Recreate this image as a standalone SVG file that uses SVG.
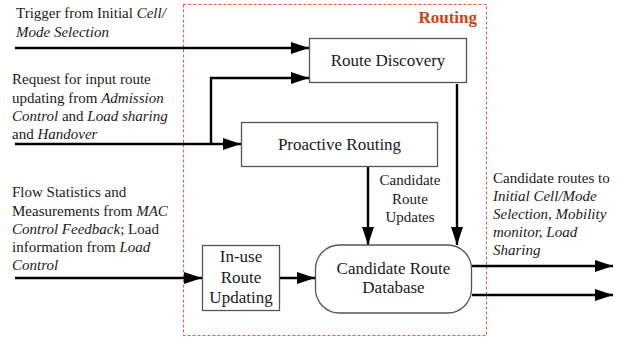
<svg xmlns="http://www.w3.org/2000/svg" width="629" height="339" viewBox="0 0 629 339">
  <defs>
    <marker id="arrow" viewBox="0 0 18 12" refX="18" refY="6" markerWidth="18" markerHeight="12" markerUnits="userSpaceOnUse" orient="auto">
      <path d="M0,0 L18,6 L0,12 Z" fill="#000"/>
    </marker>
  </defs>
  <style>
    text { font-family: 'Liberation Serif', 'DejaVu Serif', 'Noto Serif', Tinos, serif; fill: #1a1a1a; }
    .box { fill: #fff; stroke: #555; stroke-width: 1.3; }
    .lbl { font-size: 17px; text-anchor: middle; }
    .side { font-size: 15px; }
    .it { font-style: italic; }
    .wire { fill: none; stroke: #000; stroke-width: 2.4; }
    .frame { fill: none; stroke: #e0603a; stroke-width: 1.1; stroke-dasharray: 3 2; }
    .title { font-size: 17px; font-weight: bold; fill: #cc4418; text-anchor: end; }
  </style>
  <rect width="629" height="339" fill="#fff"/>

  <!-- Routing frame -->
  <g id="routing">
    <rect class="frame" x="183.5" y="4.5" width="303" height="331"/>
    <text class="title" x="477" y="23" font-family="Liberation Serif, serif">Routing</text>
  </g>

  <!-- connectors -->
  <g id="connectors">
    <path class="wire" d="M15,48 H309" marker-end="url(#arrow)"/>
    <path class="wire" d="M211,144 V78 H309" marker-end="url(#arrow)"/>
    <path class="wire" d="M15,144 H241" marker-end="url(#arrow)"/>
    <path class="wire" d="M368,166 V245" marker-end="url(#arrow)"/>
    <path class="wire" d="M457,84 V245" marker-end="url(#arrow)"/>
    <path class="wire" d="M15,278 H202" marker-end="url(#arrow)"/>
    <path class="wire" d="M280,278 H315" marker-end="url(#arrow)"/>
    <path class="wire" d="M472,266 H613" marker-end="url(#arrow)"/>
    <path class="wire" d="M472,295 H613" marker-end="url(#arrow)"/>
  </g>

  <!-- nodes -->
  <g id="route-discovery">
    <rect class="box" x="309.5" y="38.5" width="157" height="44"/>
    <text class="lbl" x="388" y="66">Route Discovery</text>
  </g>
  <g id="proactive-routing">
    <rect class="box" x="241.5" y="122.5" width="196" height="44"/>
    <text class="lbl" x="339.5" y="150">Proactive Routing</text>
  </g>
  <g id="inuse-route-updating">
    <rect class="box" x="202.5" y="245.5" width="77" height="65"/>
    <text class="lbl" x="241" y="262">In-use</text>
    <text class="lbl" x="241" y="283">Route</text>
    <text class="lbl" x="241" y="303">Updating</text>
  </g>
  <g id="candidate-route-database">
    <rect class="box" x="315.5" y="245" width="156" height="68" rx="24" ry="24"/>
    <text class="lbl" x="393.5" y="274">Candidate Route</text>
    <text class="lbl" x="393.5" y="293">Database</text>
  </g>

  <!-- edge labels -->
  <g id="labels">
    <text class="side" x="16" y="18">Trigger from Initial <tspan class="it">Cell/</tspan></text>
    <text class="side it" x="16" y="37">Mode Selection</text>

    <text class="side" x="12" y="84">Request for input route</text>
    <text class="side" x="12" y="103">updating from <tspan class="it">Admission</tspan></text>
    <text class="side" x="12" y="121"><tspan class="it">Control</tspan> and <tspan class="it">Load sharing</tspan></text>
    <text class="side" x="12" y="139">and <tspan class="it">Handover</tspan></text>

    <text class="side" x="12" y="197">Flow Statistics and</text>
    <text class="side" x="12" y="216">Measurements from <tspan class="it">MAC</tspan></text>
    <text class="side" x="12" y="234"><tspan class="it">Control Feedback</tspan>; Load</text>
    <text class="side" x="12" y="252">information from <tspan class="it">Load</tspan></text>
    <text class="side it" x="12" y="270">Control</text>

    <text class="side" x="410" y="185" text-anchor="middle">Candidate</text>
    <text class="side" x="410" y="204" text-anchor="middle">Route</text>
    <text class="side" x="410" y="222" text-anchor="middle">Updates</text>

    <text class="side" x="493" y="183">Candidate routes to</text>
    <text class="side it" x="493" y="201">Initial Cell/Mode</text>
    <text class="side it" x="493" y="219">Selection, Mobility</text>
    <text class="side it" x="493" y="237">monitor, Load</text>
    <text class="side it" x="493" y="255">Sharing</text>
  </g>
</svg>
